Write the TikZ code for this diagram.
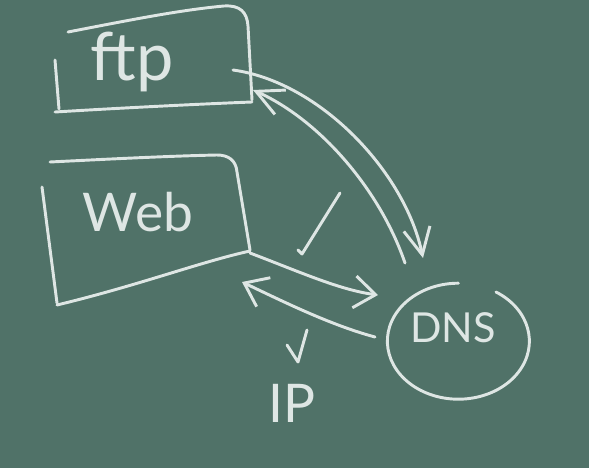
\documentclass[tikz,border=0pt]{standalone}
\usepackage{fontspec}
\setmainfont{Lato}
\usetikzlibrary{arrows.meta}
\definecolor{board}{RGB}{80,114,104}
\definecolor{chalk}{RGB}{222,230,228}
\tikzset{
  chalkline/.style={draw=chalk, line width=2.2pt, line cap=round, line join=round},
  chalktext/.style={text=chalk, inner sep=0pt},
  barbA/.style={-{Straight Barb[length=20pt,width=20pt,line width=2.2pt]}},
  barbB/.style={-{Straight Barb[length=16pt,width=24pt,line width=2.2pt]}}
}
\begin{document}
\begin{tikzpicture}[x=0.75pt,y=-0.75pt]
\fill[board] (0,0) rectangle (589,468);
\useasboundingbox (0,0) rectangle (589,468);

% ftp box
\draw[chalkline] (68,32) .. controls (130,20) and (180,10) .. (224,6) .. controls (240,5) and (247,12) .. (248,26) -- (252,100);
\draw[chalkline] (55,112) .. controls (120,108) and (200,104) .. (252,102);
\draw[chalkline] (55,60) -- (59,109);
\node[chalktext, font=\fontsize{50}{50}\selectfont] (ftp) at (132,62) {ftp};

% Web box
\draw[chalkline] (50,162) .. controls (110,159) and (170,156) .. (217,155) .. controls (228,155) and (236,160) .. (237,172) -- (250,250);
\draw[chalkline] (250,251) .. controls (200,262) and (140,285) .. (57,305);
\draw[chalkline] (42,187) -- (57,303);
\node[chalktext, font=\fontsize{40}{40}\selectfont] (web) at (138,212) {Web};

% DNS
\draw[chalkline] (496,292) arc[start angle=-58, end angle=270, x radius=71, y radius=58];
\node[chalktext, font=\fontsize{31}{31}\selectfont] (dns) at (453,328) {DNS};

% IP
\node[chalktext, font=\fontsize{40}{40}\selectfont] (ip) at (292,403) {IP};

% connector end points
\coordinate (ftpOut) at (233,70);
\coordinate (ftpIn) at (253,90);
\coordinate (dnsTopIn) at (423,258);
\coordinate (dnsTopOut) at (405,263);
\coordinate (webOut) at (250,253);
\coordinate (webIn) at (242,282);
\coordinate (dnsLeftIn) at (378,295);
\coordinate (dnsLeftOut) at (375,337);

% ftp <-> DNS
\draw[chalkline, barbA] (ftpOut) .. controls (320,82) and (405,172) .. (dnsTopIn);
\draw[chalkline, barbA] (dnsTopOut) .. controls (380,190) and (320,120) .. (ftpIn);

% Web <-> DNS
\draw[chalkline, barbB] (webOut) .. controls (300,272) and (340,290) .. (dnsLeftIn);
\draw[chalkline, barbB] (dnsLeftOut) .. controls (330,325) and (280,300) .. (webIn);

% check marks
\draw[chalkline] (298,250) -- (302,254) -- (340,193);
\draw[chalkline] (287,345) -- (298,362) -- (307,330);
\end{tikzpicture}
\end{document}
